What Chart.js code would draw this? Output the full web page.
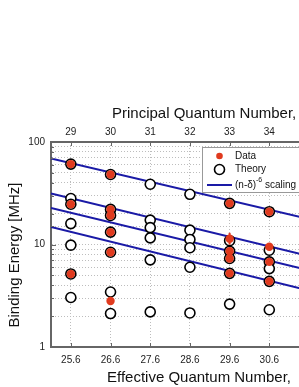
<!DOCTYPE html>
<html>
<head>
<meta charset="utf-8">
<script src="https://cdn.jsdelivr.net/npm/chart.js@4/dist/chart.umd.min.js"></script>
<style>
  html, body { margin: 0; padding: 0; background: #fff; overflow: hidden; }
  #wrap { width: 299px; height: 387px; overflow: hidden; position: relative; }
  canvas { display: block; }
</style>
</head>
<body>
<div id="wrap"><canvas id="bindChart" width="320" height="387"></canvas></div>
<script>
// effective quantum number axis (bottom) and principal quantum number axis (top)
var xTicks = [25.6, 26.6, 27.6, 28.6, 29.6, 30.6];
var nTicks = [29, 30, 31, 32, 33, 34];
var yLabels = [1, 10, 100];

// theory values (open circles), one list per column
var theoryX = [25.6, 25.6, 25.6, 25.6, 25.6, 25.6, 25.6,
               26.6, 26.6, 26.6, 26.6, 26.6, 26.6, 26.6,
               27.6, 27.6, 27.6, 27.6, 27.6, 27.6,
               28.6, 28.6, 28.6, 28.6, 28.6, 28.6,
               29.6, 29.6, 29.6, 29.6, 29.6, 29.6,
               30.6, 30.6, 30.6, 30.6, 30.6, 30.6];
var theoryY = [60.9, 28.1, 24.7, 16.0, 9.85, 5.16, 3.04,
               48.2, 22.0, 19.2, 13.2, 8.4, 3.44, 2.12,
               38.7, 17.3, 14.6, 11.6, 7.08, 2.2,
               30.9, 13.8, 11.2, 9.3, 6.0, 2.15,
               25.2, 10.9, 8.6, 7.3, 5.23, 2.62,
               20.9, 8.8, 6.77, 5.82, 4.37, 2.31];

// measured values (red dots)
var dataX = [25.6, 25.6, 25.6,
             26.6, 26.6, 26.6, 26.6, 26.6, 26.6,
             29.6, 29.6, 29.6, 29.6, 29.6,
             30.6, 30.6, 30.6, 30.6];
var dataY = [60.9, 24.7, 5.16,
             48.2, 22.0, 19.2, 13.2, 8.4, 2.81,
             25.2, 11.4, 8.6, 7.3, 5.23,
             20.9, 9.5, 6.77, 4.37];
// error bars (low, high), null where none is drawn
var dataErrLo = [null, null, null, null, null, null, null, null, null,
                 null, 10.0, null, null, null, null, 9.0, null, null];
var dataErrHi = [null, null, null, null, null, null, null, null, null,
                 null, 13.0, null, null, null, null, 10.1, null, null];

var lineX = [25.1, 31.6];
var line1 = [69.2, 17.7];
var line2 = [31.4, 7.73];
var line3 = [22.7, 5.60];
var line4 = [14.8, 3.56];

var RED = '#e03a1e';
var BLUE = '#1a1aa6';
var AXIS = '#666';
var GRID = '#bdbdbd';
var FONT = '"Liberation Sans", Arial, sans-serif';

function pts(xs, ys) {
  var out = [];
  for (var i = 0; i < xs.length; i++) out.push({ x: xs[i], y: ys[i] });
  return out;
}

function lineSet(vals) {
  return {
    label: '(n-δ)-6 scaling',
    data: pts(lineX, vals),
    showLine: true,
    borderColor: BLUE,
    borderWidth: 2,
    pointRadius: 0,
    fill: false
  };
}

// inward ticks, error bars, titles and the boxed legend
var extras = {
  id: 'extras',
  afterDatasetsDraw: function (chart) {
    var ctx = chart.ctx, x = chart.scales.x, y = chart.scales.y;
    ctx.save();
    ctx.strokeStyle = RED;
    ctx.lineWidth = 2;
    for (var i = 0; i < dataX.length; i++) {
      if (dataErrLo[i] == null) continue;
      var px = x.getPixelForValue(dataX[i]);
      ctx.beginPath();
      ctx.moveTo(px, y.getPixelForValue(dataErrLo[i]));
      ctx.lineTo(px, y.getPixelForValue(dataErrHi[i]));
      ctx.stroke();
    }
    ctx.restore();
  },
  afterDraw: function (chart) {
    var ctx = chart.ctx, a = chart.chartArea;
    var x = chart.scales.x, x2 = chart.scales.x2, y = chart.scales.y;
    ctx.save();
    ctx.strokeStyle = AXIS;
    ctx.lineWidth = 1;
    ctx.beginPath();
    y.ticks.forEach(function (t) {
      var py = Math.round(y.getPixelForValue(t.value)) + 0.5;
      var len = yLabels.indexOf(t.value) >= 0 ? 5 : 3;
      ctx.moveTo(a.left, py); ctx.lineTo(a.left + len, py);
    });
    xTicks.forEach(function (v) {
      var px = Math.round(x.getPixelForValue(v)) + 0.5;
      ctx.moveTo(px, a.bottom); ctx.lineTo(px, a.bottom - 4);
    });
    nTicks.forEach(function (v) {
      var px = Math.round(x2.getPixelForValue(v)) + 0.5;
      ctx.moveTo(px, a.top); ctx.lineTo(px, a.top + 4);
    });
    ctx.stroke();

    // axis titles
    ctx.fillStyle = '#111';
    ctx.font = '15px ' + FONT;
    ctx.textBaseline = 'middle';
    ctx.textAlign = 'left';
    ctx.fillText('Principal Quantum Number,', 112, 114);
    ctx.fillText('Effective Quantum Number,', 107, 378);
    ctx.save();
    ctx.translate(15, 255);
    ctx.rotate(-Math.PI / 2);
    ctx.textAlign = 'center';
    ctx.fillText('Binding Energy [MHz]', 0, 0);
    ctx.restore();

    // legend box
    ctx.fillStyle = '#fff';
    ctx.fillRect(202.5, 147.5, 120, 45);
    ctx.strokeStyle = '#999';
    ctx.strokeRect(202.5, 147.5, 120, 45);
    ctx.fillStyle = RED;
    ctx.beginPath(); ctx.arc(219.5, 156, 3.3, 0, Math.PI * 2); ctx.fill();
    ctx.strokeStyle = '#000';
    ctx.lineWidth = 1.6;
    ctx.beginPath(); ctx.arc(219.5, 169.5, 5, 0, Math.PI * 2); ctx.stroke();
    ctx.strokeStyle = BLUE;
    ctx.lineWidth = 2;
    ctx.beginPath(); ctx.moveTo(207, 185); ctx.lineTo(232, 185); ctx.stroke();
    ctx.fillStyle = '#111';
    ctx.font = '10px ' + FONT;
    ctx.fillText('Data', 235, 156);
    ctx.fillText('Theory', 235, 169.5);
    ctx.fillText('(n-δ)', 235, 185.5);
    ctx.font = '7px ' + FONT;
    ctx.fillText('-6', 256, 180.5);
    ctx.font = '10px ' + FONT;
    ctx.fillText('scaling', 265, 185.5);
    ctx.restore();
  }
};

var ctx = document.getElementById('bindChart');
var bindChart = new Chart(ctx, {
  type: 'scatter',
  data: {
    datasets: [{
      label: 'Data',
      data: pts(dataX, dataY),
      backgroundColor: RED,
      borderWidth: 0,
      pointRadius: 4.2
    }, {
      label: 'Theory',
      data: pts(theoryX, theoryY),
      backgroundColor: '#fff',
      borderColor: '#000',
      borderWidth: 1.6,
      pointRadius: 5
    },
    lineSet(line1), lineSet(line2), lineSet(line3), lineSet(line4)
    ]
  },
  options: {
    responsive: false,
    animation: false,
    layout: { padding: { left: 0, right: 11, top: 0, bottom: 0 } },
    plugins: {
      legend: { display: false },
      tooltip: { enabled: false }
    },
    scales: {
      x: {
        type: 'linear',
        position: 'bottom',
        min: 25.1,
        max: 31.6,
        afterBuildTicks: function (axis) {
          axis.ticks = xTicks.map(function (v) { return { value: v }; });
        },
        afterFit: function (s) { s.height = 40; },
        ticks: {
          callback: function (v) { return v.toFixed(1); },
          font: { family: FONT, size: 10 },
          color: '#222',
          padding: 7,
          maxRotation: 0
        },
        grid: { color: GRID, drawTicks: false },
        border: { color: AXIS, width: 2, dash: [1, 2] }
      },
      x2: {
        type: 'linear',
        position: 'top',
        min: 28.5,
        max: 35.0,
        afterBuildTicks: function (axis) {
          axis.ticks = nTicks.map(function (v) { return { value: v }; });
        },
        afterFit: function (s) { s.height = 142; },
        ticks: {
          font: { family: FONT, size: 10 },
          color: '#222',
          padding: 4,
          maxRotation: 0
        },
        grid: { drawOnChartArea: false, drawTicks: false },
        border: { color: AXIS, width: 2 }
      },
      y: {
        type: 'logarithmic',
        position: 'left',
        min: 1,
        max: 100,
        afterFit: function (s) { s.width = 51; },
        ticks: {
          callback: function (v) { return yLabels.indexOf(v) >= 0 ? String(v) : ''; },
          font: { family: FONT, size: 10 },
          color: '#222',
          padding: 6,
          autoSkip: false
        },
        grid: { color: GRID, drawTicks: false },
        border: { color: AXIS, width: 2, dash: [1, 2] }
      }
    }
  },
  plugins: [extras]
});
</script>
</body>
</html>
